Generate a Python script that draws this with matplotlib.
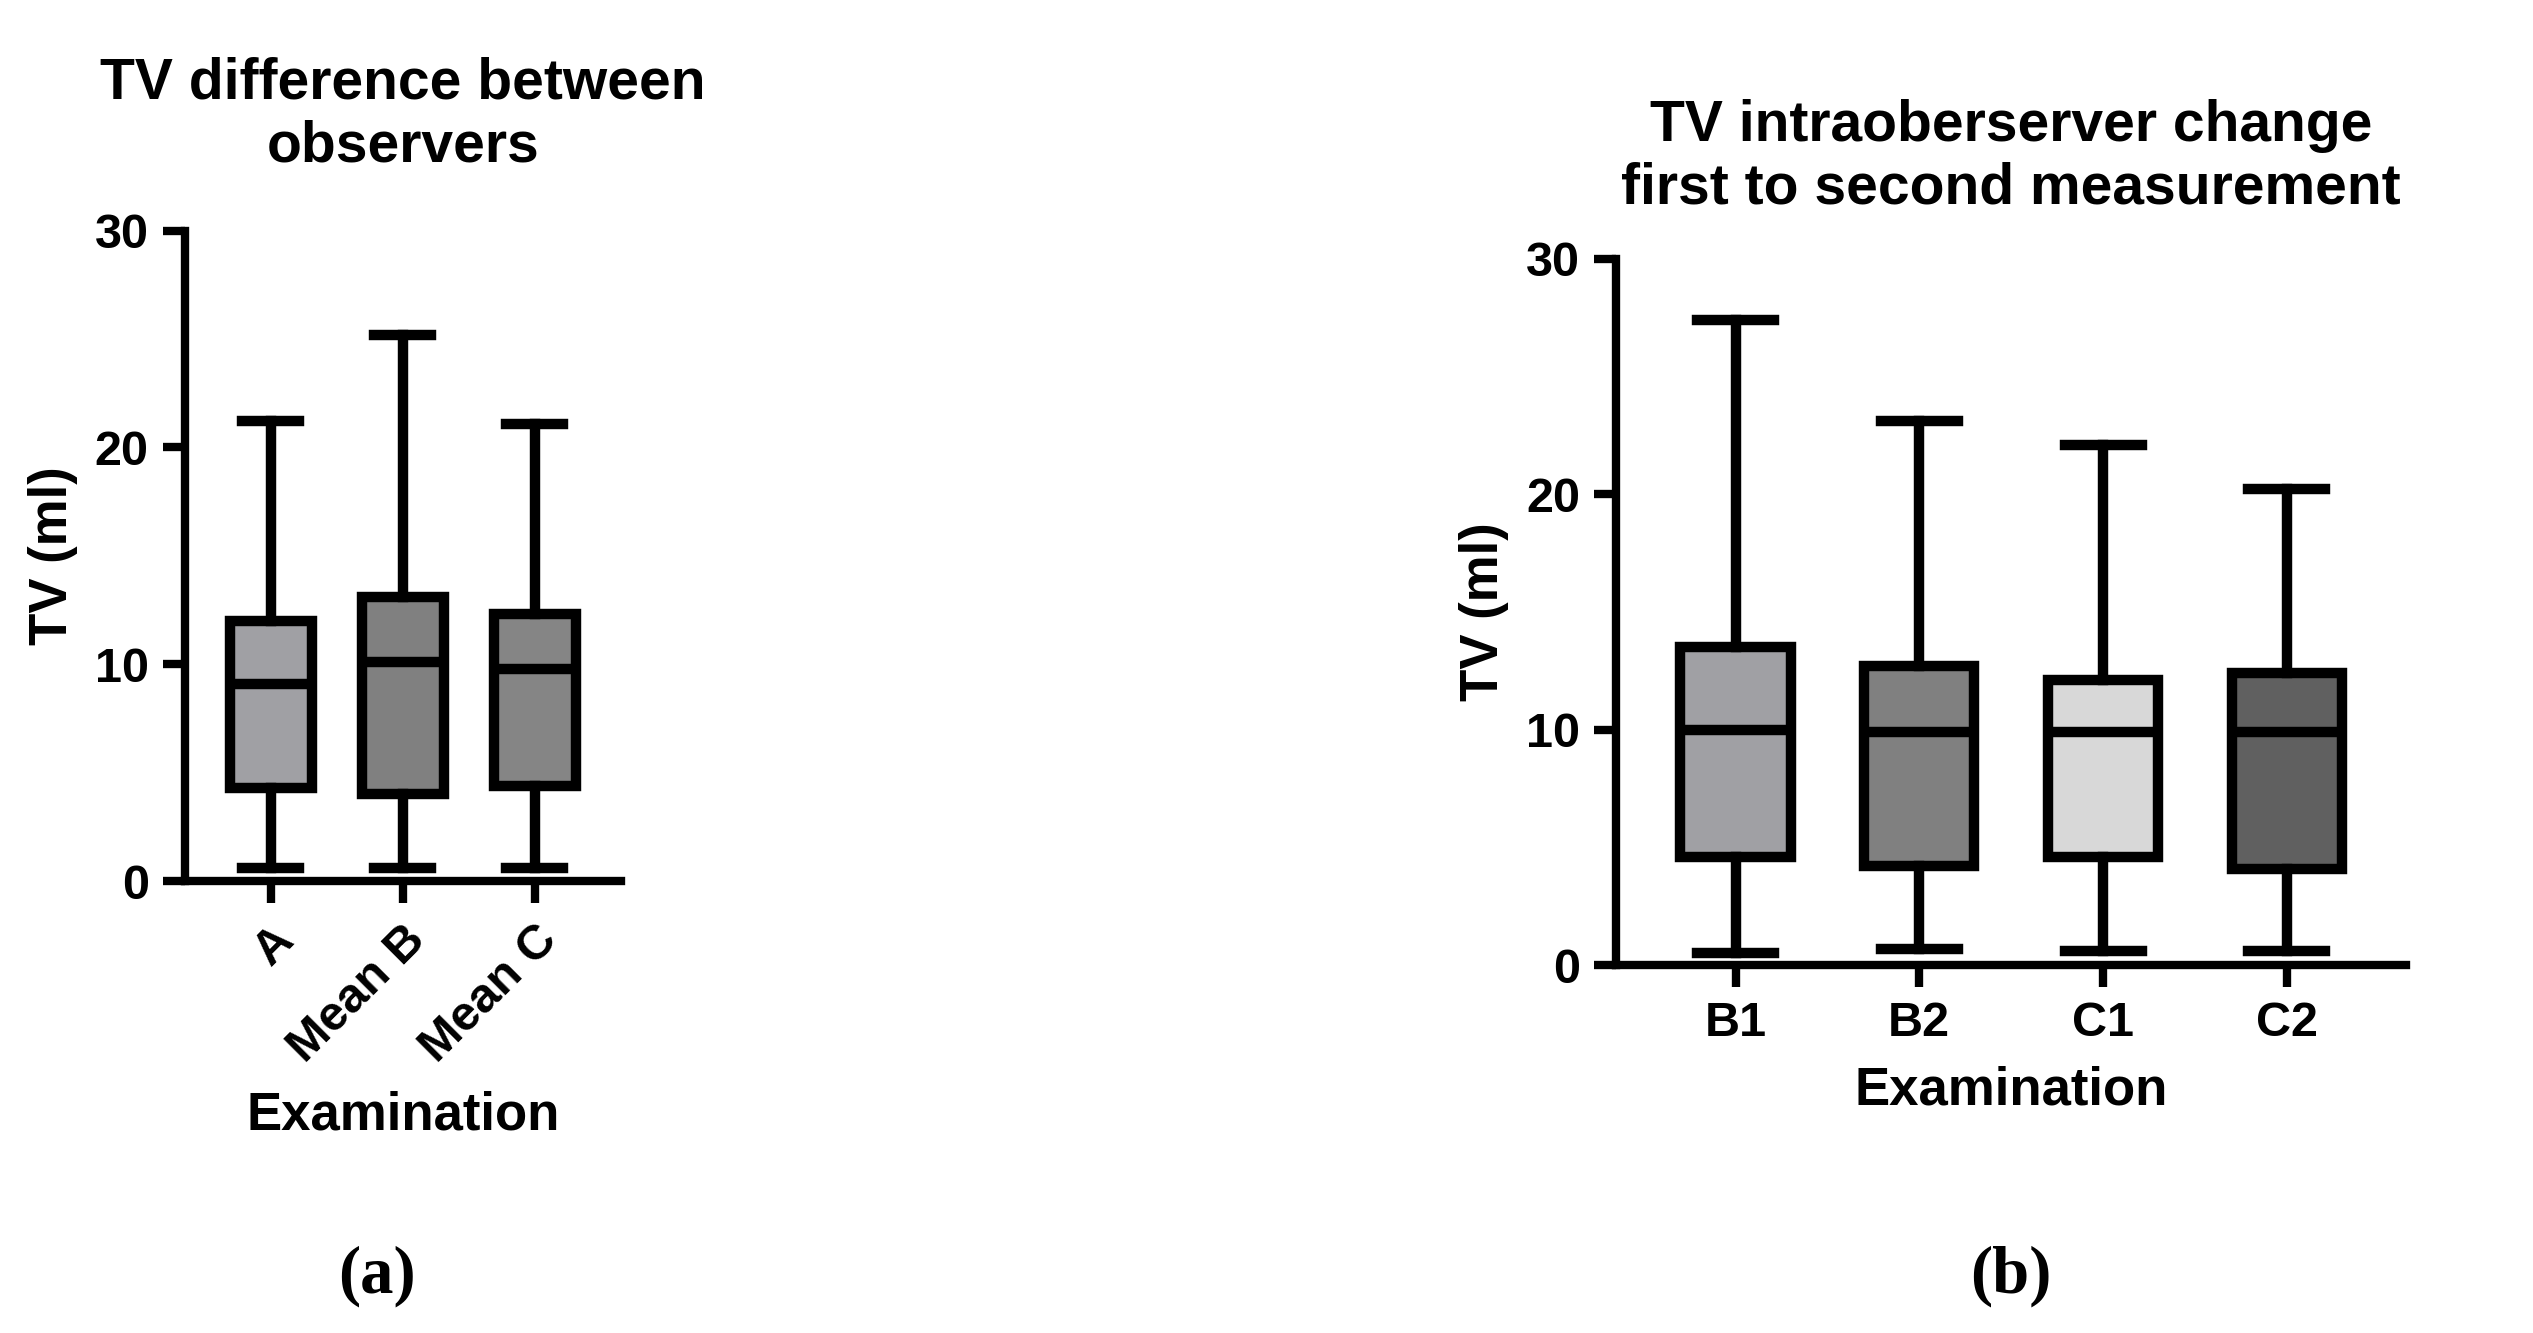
import matplotlib.pyplot as plt

plt.rcParams['font.family'] = ['Liberation Sans', 'DejaVu Sans']
plt.rcParams['font.weight'] = 'bold'

# panel (a)
labels_a = ['A', 'Mean B', 'Mean C']
whislo_a = [0.6, 0.6, 0.6]
q1_a = [4.3, 4.0, 4.4]
med_a = [9.1, 10.1, 9.8]
q3_a = [12.0, 13.1, 12.3]
whishi_a = [21.2, 25.2, 21.1]
colors_a = ['#a0a0a4', '#808080', '#858585']

# panel (b)
labels_b = ['B1', 'B2', 'C1', 'C2']
whislo_b = [0.5, 0.7, 0.6, 0.6]
q1_b = [4.6, 4.2, 4.6, 4.1]
med_b = [10.0, 9.9, 9.9, 9.9]
q3_b = [13.5, 12.7, 12.1, 12.4]
whishi_b = [27.4, 23.1, 22.1, 20.2]
colors_b = ['#a0a0a4', '#808080', '#d8d8d8', '#606060']

LW = 7.5


def draw(ax, labels, lo, q1, med, q3, hi, colors, width):
    stats = [dict(label=l, whislo=a, q1=b, med=c, q3=d, whishi=e)
             for l, a, b, c, d, e in zip(labels, lo, q1, med, q3, hi)]
    bp = ax.bxp(stats, showfliers=False, patch_artist=True, widths=width,
                boxprops=dict(linewidth=LW, edgecolor='black'),
                medianprops=dict(linewidth=LW, color='black'),
                whiskerprops=dict(linewidth=LW, color='black'),
                capprops=dict(linewidth=LW, color='black'),
                capwidths=width * 0.7)
    for patch, c in zip(bp['boxes'], colors):
        patch.set_facecolor(c)
    ax.set_ylim(0, 30)
    ax.set_yticks([0, 10, 20, 30])
    for s in ['top', 'right']:
        ax.spines[s].set_visible(False)
    for s in ['left', 'bottom']:
        ax.spines[s].set_linewidth(LW * 0.8)
    ax.tick_params(width=LW * 0.8, length=16, labelsize=35, pad=10)
    for t in ax.get_xticklabels() + ax.get_yticklabels():
        t.set_fontweight('bold')
    ax.set_ylabel('TV (ml)', fontsize=38, fontweight='bold', labelpad=12)
    ax.set_xlabel('Examination', fontsize=38, fontweight='bold', labelpad=14)


fig = plt.figure(figsize=(25.33, 13.33), dpi=100)

ax1 = fig.add_axes([0.073, 0.339, 0.172, 0.488])
draw(ax1, labels_a, whislo_a, q1_a, med_a, q3_a, whishi_a, colors_a, 0.62)
ax1.set_xlim(0.35, 3.65)
plt.setp(ax1.get_xticklabels(), rotation=45, ha='right', rotation_mode='anchor')
ax1.set_title('TV difference between\nobservers', fontsize=41, fontweight='bold', pad=50)

ax2 = fig.add_axes([0.638, 0.276, 0.312, 0.530])
draw(ax2, labels_b, whislo_b, q1_b, med_b, q3_b, whishi_b, colors_b, 0.6)
ax2.set_xlim(0.35, 4.65)
ax2.set_title('TV intraoberserver change\nfirst to second measurement', fontsize=41,
              fontweight='bold', pad=40)

fig.text(0.149, 0.03, '(a)', fontsize=48, family='Liberation Serif', fontweight='bold', ha='center')
fig.text(0.794, 0.03, '(b)', fontsize=48, family='Liberation Serif', fontweight='bold', ha='center')

fig.savefig('out.png', dpi=100)
